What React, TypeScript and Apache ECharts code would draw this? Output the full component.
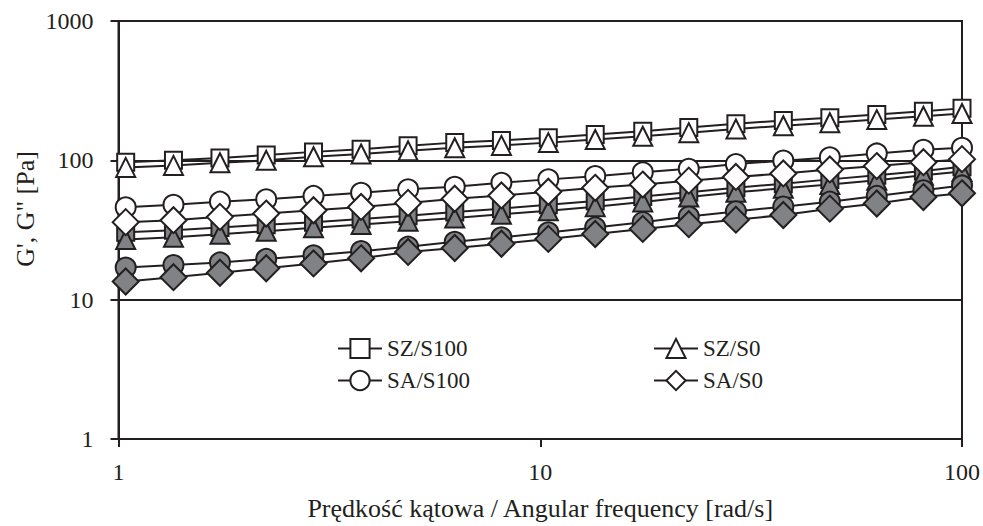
import React, { useEffect, useRef } from "react";
import * as echarts from "echarts";

// Angular frequency [rad/s]
const omega = [1.04, 1.35, 1.74, 2.24, 2.9, 3.76, 4.86, 6.27, 8.09, 10.45, 13.5, 17.5, 22.5, 29.1, 37.7, 48.6, 62.8, 81, 100];

// G' (storage modulus, open markers)
const szS100Gp = [97, 100, 104, 109, 115, 120, 127, 134, 139, 145, 153, 162, 172, 183, 193, 202, 213, 225, 236];
const szS0Gp = [89, 92, 96, 100, 106, 111, 117, 123, 128, 134, 141, 149, 158, 168, 177, 186, 196, 207, 217];
const saS100Gp = [46, 48, 50.5, 52.5, 55.5, 58.5, 62, 64.5, 69, 73, 77, 82, 87, 94, 99.5, 105, 112, 119, 123];
const saS0Gp = [36, 37.2, 39.3, 41.5, 43.8, 46.3, 49.5, 53, 56, 59.5, 63.5, 67, 71.5, 76, 80.5, 86, 91, 97, 102];

// G'' (loss modulus, grey markers)
const szS100Gpp = [30.5, 31.5, 33, 34.5, 36, 38, 40, 42.5, 45, 48, 51, 55, 59, 63.5, 68, 73, 78, 84, 90];
const szS0Gpp = [27, 28, 29.5, 31, 32.8, 34.7, 36.5, 38.5, 41, 43.5, 46.5, 50.3, 54.5, 59, 63, 67, 72, 78, 83];
const saS100Gpp = [17, 17.7, 18.5, 19.6, 20.8, 22.3, 24, 26, 28, 30.4, 33, 36, 39.5, 43, 46.5, 50.5, 55.5, 61, 66];
const saS0Gpp = [13.5, 14.5, 15.6, 16.8, 18.2, 19.8, 22, 23.5, 25.2, 27.3, 29.6, 32.2, 34.8, 37.5, 40.5, 45, 49, 54.5, 58];

const legendNames = ["SZ/S100", "SZ/S0", "SA/S100", "SA/S0"];
const xTickLabels = ["1", "10", "100"];
const yTickLabels = ["1", "10", "100", "1000"];

const INK = "#231f20";
const GREY = "#808285";
const FONT = '"Liberation Serif", "Times New Roman", serif';

function pairs(vals: number[]) {
  return omega.map((x, i) => [x, vals[i]]);
}

function mkSeries(name: string, vals: number[], symbol: string, size: any, fill: string) {
  return {
    name,
    type: "line",
    data: pairs(vals),
    symbol,
    symbolSize: size,
    showSymbol: true,
    clip: false,
    lineStyle: { color: INK, width: 2 },
    itemStyle: { color: fill, borderColor: INK, borderWidth: 2, opacity: 1 },
    emphasis: { disabled: true },
  };
}

export default function App() {
  const ref = useRef<HTMLDivElement>(null);
  useEffect(() => {
    if (!ref.current) return;
    const chart = echarts.init(ref.current, undefined, { renderer: "svg" });
    const legendPos = [
      { left: 337, top: 337 },
      { left: 653, top: 337 },
      { left: 337, top: 369 },
      { left: 653, top: 369 },
    ];
    const option: any = {
      animation: false,
      backgroundColor: "#ffffff",
      grid: {
        left: 118.5,
        right: 21,
        top: 21,
        bottom: 84,
        show: true,
        borderColor: INK,
        borderWidth: 2,
        backgroundColor: "transparent",
      },
      legend: legendNames.map((n, i) => ({
        data: [n],
        left: legendPos[i].left,
        top: legendPos[i].top,
        padding: 0,
        itemWidth: 44,
        itemHeight: 24,
        itemGap: 0,
        selectedMode: false,
        textStyle: { fontFamily: FONT, fontSize: 23, color: INK },
      })),
      xAxis: {
        type: "log",
        logBase: 10,
        min: 1,
        max: 100,
        name: "Prędkość kątowa / Angular frequency [rad/s]",
        nameLocation: "middle",
        nameGap: 56,
        nameTextStyle: { fontFamily: FONT, fontSize: 26, color: INK },
        axisLine: { show: true, lineStyle: { color: INK, width: 2 } },
        axisTick: { show: true, inside: false, length: 8, lineStyle: { color: INK, width: 2 } },
        minorTick: { show: false },
        axisLabel: {
          fontFamily: FONT,
          fontSize: 24,
          color: INK,
          margin: 21,
          formatter: (v: number) => {
            const s = String(Math.round(v));
            return xTickLabels.includes(s) ? s : "";
          },
        },
        splitLine: { show: false },
      },
      yAxis: {
        type: "log",
        logBase: 10,
        min: 1,
        max: 1000,
        axisLine: { show: true, lineStyle: { color: INK, width: 2 } },
        axisTick: { show: true, inside: false, length: 8, lineStyle: { color: INK, width: 2 } },
        axisLabel: {
          fontFamily: FONT,
          fontSize: 24,
          color: INK,
          margin: 25,
          formatter: (v: number) => {
            const s = String(Math.round(v));
            return yTickLabels.includes(s) ? s : "";
          },
        },
        splitLine: { show: true, lineStyle: { color: INK, width: 2 } },
      },
      graphic: [
        {
          type: "text",
          x: 25,
          y: 209,
          rotation: Math.PI / 2,
          style: {
            text: "G', G\" [Pa]",
            fontFamily: FONT,
            fontSize: 26,
            fill: INK,
            align: "center",
            verticalAlign: "middle",
          },
        },
      ],
      series: [
        mkSeries("SZ/S100 G''", szS100Gpp, "rect", 17, GREY),
        mkSeries("SZ/S0 G''", szS0Gpp, "triangle", 19, GREY),
        mkSeries("SA/S100 G''", saS100Gpp, "circle", 20, GREY),
        mkSeries("SA/S0 G''", saS0Gpp, "diamond", 26, GREY),
        mkSeries("SZ/S100", szS100Gp, "rect", 17, "#ffffff"),
        mkSeries("SZ/S0", szS0Gp, "triangle", 19, "#ffffff"),
        mkSeries("SA/S100", saS100Gp, "circle", 20, "#ffffff"),
        mkSeries("SA/S0", saS0Gp, "diamond", 26, "#ffffff"),
      ],
    };
    chart.setOption(option);
    return () => chart.dispose();
  }, []);
  return (
    <div
      ref={ref}
      style={{ position: "absolute", left: 0, top: 0, width: 983, height: 526 }}
    />
  );
}
